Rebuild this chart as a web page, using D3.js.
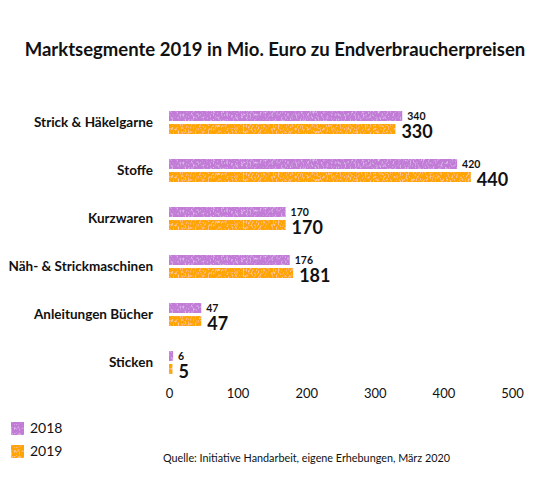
<!DOCTYPE html>
<html>
<head>
<meta charset="utf-8">
<script src="https://cdn.jsdelivr.net/npm/d3@7"></script>
<style>
  body { margin: 0; background: #fff; }
  text { font-family: Lato, "Open Sans", sans-serif; fill: #111; }
</style>
</head>
<body>
<div id="chart"></div>
<script>
// data
const categories = ["Strick & Häkelgarne", "Stoffe", "Kurzwaren", "Näh- & Strickmaschinen", "Anleitungen Bücher", "Sticken"];
const series = ["2018", "2019"];
const values2018 = [340, 420, 170, 176, 47, 6];
const values2019 = [330, 440, 170, 181, 47, 5];
const xTicks = [0, 100, 200, 300, 400, 500];
const colors = { "2018": "#c27bd8", "2019": "#ffa500" };

const width = 550, height = 480;
const svg = d3.select("#chart").append("svg")
    .attr("width", width)
    .attr("height", height);

// soft crayon texture: faint light patches inside the shapes
const defs = svg.append("defs");
const filt = defs.append("filter").attr("id", "crayon")
    .attr("x", 0).attr("y", 0).attr("width", 1).attr("height", 1);
filt.append("feTurbulence")
    .attr("type", "fractalNoise")
    .attr("baseFrequency", "0.6 0.35")
    .attr("numOctaves", 3)
    .attr("seed", 5)
    .attr("result", "noise");
filt.append("feColorMatrix")
    .attr("in", "noise")
    .attr("type", "matrix")
    .attr("values", "0 0 0 0 1  0 0 0 0 1  0 0 0 0 1  0 0 0 -1.3 0.62")
    .attr("result", "spots");
filt.append("feComposite")
    .attr("in", "spots").attr("in2", "SourceGraphic")
    .attr("operator", "in").attr("result", "spotsIn");
filt.append("feMerge").call(m => {
    m.append("feMergeNode").attr("in", "SourceGraphic");
    m.append("feMergeNode").attr("in", "spotsIn");
});

const x = d3.scaleLinear().domain([0, 500]).range([169, 512]);
const y = d3.scaleBand().domain(categories).range([98.5, 386.5]);
const ySub = d3.scaleBand().domain(series).range([-11.5, 11.5]).paddingInner(0.2308);

// title
svg.append("text")
    .attr("x", width / 2)
    .attr("y", 56)
    .attr("text-anchor", "middle")
    .style("font-size", "18.5px")
    .style("font-weight", 700)
    .text("Marktsegmente 2019 in Mio. Euro zu Endverbraucherpreisen");

// category labels
svg.append("g").selectAll("text")
    .data(categories)
    .enter().append("text")
    .attr("x", 153)
    .attr("y", d => y(d) + y.bandwidth() / 2)
    .attr("dy", "0.35em")
    .attr("text-anchor", "end")
    .style("font-size", "13.5px")
    .style("font-weight", 700)
    .text(d => d);

const rows = categories.map((c, i) => ({ cat: c, v: { "2018": values2018[i], "2019": values2019[i] } }));

const groups = svg.append("g").selectAll("g")
    .data(rows)
    .enter().append("g")
    .attr("transform", d => `translate(0,${y(d.cat) + y.bandwidth() / 2})`);

series.forEach(s => {
    groups.append("rect")
        .attr("x", x(0))
        .attr("y", ySub(s))
        .attr("width", d => x(d.v[s]) - x(0))
        .attr("height", ySub.bandwidth())
        .attr("fill", colors[s])
        .attr("filter", "url(#crayon)");
});

// value labels: small for 2018, large for 2019
groups.append("text")
    .attr("x", d => x(d.v["2018"]) + 5)
    .attr("y", ySub("2018") + ySub.bandwidth() / 2)
    .attr("dy", "0.35em")
    .style("font-size", "10.5px")
    .style("font-weight", 700)
    .text(d => d.v["2018"]);

groups.append("text")
    .attr("x", d => x(d.v["2019"]) + 6)
    .attr("y", ySub("2019") + ySub.bandwidth() / 2 + 3)
    .attr("dy", "0.35em")
    .style("font-size", "18px")
    .style("font-weight", 700)
    .text(d => d.v["2019"]);

// x axis, labels only
const xAxis = svg.append("g")
    .attr("transform", "translate(0,389)")
    .call(d3.axisBottom(x).tickValues(xTicks).tickSize(0).tickPadding(0));
xAxis.select(".domain").remove();
xAxis.selectAll("text")
    .attr("dy", "0.71em")
    .style("font-size", "13px")
    .style("font-family", "Lato, sans-serif")
    .attr("fill", "#111");

// legend
const legend = svg.append("g").selectAll("g")
    .data(series)
    .enter().append("g")
    .attr("transform", (d, i) => `translate(11,${422 + i * 23})`);
legend.append("rect")
    .attr("width", 13)
    .attr("height", 13)
    .attr("fill", d => colors[d])
    .attr("filter", "url(#crayon)");
legend.append("text")
    .attr("x", 19)
    .attr("y", 6.5)
    .attr("dy", "0.35em")
    .style("font-size", "14px")
    .text(d => d);

// source
svg.append("text")
    .attr("x", 163)
    .attr("y", 458)
    .attr("dy", "0.35em")
    .style("font-size", "10.8px")
    .text("Quelle: Initiative Handarbeit, eigene Erhebungen, März 2020");
</script>
</body>
</html>
